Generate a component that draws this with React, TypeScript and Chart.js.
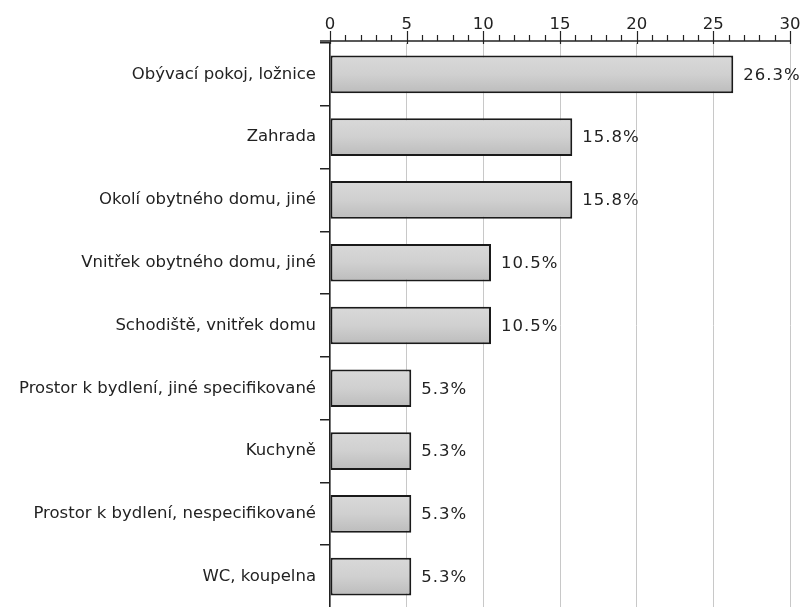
import React, { useEffect, useRef } from "react";
import { Chart, registerables } from "chart.js";

Chart.register(...registerables);

const categories = [
  "Obývací pokoj, ložnice",
  "Zahrada",
  "Okolí obytného domu, jiné",
  "Vnitřek obytného domu, jiné",
  "Schodiště, vnitřek domu",
  "Prostor k bydlení, jiné specifikované",
  "Kuchyně",
  "Prostor k bydlení, nespecifikované",
  "WC, koupelna",
];
const values = [26.3, 15.8, 15.8, 10.5, 10.5, 5.3, 5.3, 5.3, 5.3];
const valueLabels = ["26.3%", "15.8%", "15.8%", "10.5%", "10.5%", "5.3%", "5.3%", "5.3%", "5.3%"];
const axisMin = 0;
const axisMax = 30;
const majorStep = 5;
const minorStep = 1;

const FONT = "'DejaVu Sans', sans-serif";
const FONT_SIZE = 16.5;
const INK = "#222222";

const gradientPlugin = {
  id: "barGradient",
  beforeDatasetsDraw(chart: any) {
    const ctx = chart.ctx;
    chart.getDatasetMeta(0).data.forEach((el: any) => {
      const top = el.y - el.height / 2;
      const bottom = el.y + el.height / 2;
      const g = ctx.createLinearGradient(0, top, 0, bottom);
      g.addColorStop(0, "#d9d9d9");
      g.addColorStop(0.5, "#d0d0d0");
      g.addColorStop(1, "#bcbcbc");
      el.options = Object.assign({}, el.options, { backgroundColor: g });
    });
  },
};

const axisPlugin = {
  id: "topAxis",
  afterDraw(chart: any) {
    const ctx = chart.ctx;
    const xs = chart.scales.x;
    const axisY = chart.chartArea.top - 2;
    ctx.save();
    ctx.strokeStyle = INK;
    ctx.lineWidth = 1.5;
    ctx.beginPath();
    ctx.moveTo(chart.chartArea.left - 10, axisY);
    ctx.lineTo(chart.chartArea.right, axisY);
    ctx.stroke();
    ctx.lineWidth = 1.2;
    for (let v = axisMin; v <= axisMax + 1e-9; v += minorStep) {
      const x = Math.round(xs.getPixelForValue(v)) + 0.5;
      const major = Math.abs(v % majorStep) < 1e-9;
      ctx.beginPath();
      ctx.moveTo(x, major ? axisY - 10 : axisY - 6);
      ctx.lineTo(x, major ? axisY + 3 : axisY);
      ctx.stroke();
    }
    ctx.fillStyle = INK;
    ctx.font = `${FONT_SIZE}px ${FONT}`;
    ctx.textAlign = "left";
    ctx.textBaseline = "middle";
    (ctx as any).letterSpacing = "1px";
    chart.getDatasetMeta(0).data.forEach((el: any, i: number) => {
      ctx.fillText(valueLabels[i], el.x + 10, el.y + 1);
    });
    ctx.restore();
  },
};

export default function App() {
  const ref = useRef<HTMLCanvasElement | null>(null);
  useEffect(() => {
    if (!ref.current) return;
    const chart = new Chart(ref.current, {
      type: "bar",
      data: {
        labels: categories,
        datasets: [
          {
            data: values,
            backgroundColor: "#cccccc",
            borderColor: "#1a1a1a",
            borderWidth: 2,
            borderSkipped: false,
            barPercentage: 0.6,
            categoryPercentage: 1,
          },
        ],
      },
      options: {
        indexAxis: "y",
        animation: false,
        responsive: false,
        devicePixelRatio: 1,
        layout: { padding: { left: 0, right: 12, top: 0, bottom: 0 } },
        plugins: { legend: { display: false }, tooltip: { enabled: false } },
        scales: {
          x: {
            type: "linear",
            position: "top",
            min: axisMin,
            max: axisMax,
            ticks: {
              stepSize: majorStep,
              color: INK,
              font: { family: FONT, size: FONT_SIZE },
              padding: 8,
            },
            grid: { color: "#c8c8c8", lineWidth: 1, drawTicks: false },
            border: { display: false },
            afterFit: (s: any) => {
              s.height = 43;
              s.paddingLeft = 0;
              s.paddingRight = 0;
            },
          },
          y: {
            type: "category",
            ticks: {
              color: INK,
              font: { family: FONT, size: FONT_SIZE },
              padding: 4,
            },
            grid: {
              drawOnChartArea: false,
              drawTicks: true,
              tickLength: 10,
              offset: true,
              color: INK,
              lineWidth: 1.5,
            },
            border: { display: true, color: INK, width: 1.5 },
            afterFit: (s: any) => {
              s.width = 330;
              s.paddingTop = 0;
              s.paddingBottom = 0;
            },
          },
        },
      },
      plugins: [gradientPlugin, axisPlugin],
    });
    return () => chart.destroy();
  }, []);
  return (
    <div
      style={{
        position: "fixed",
        left: 0,
        top: 0,
        width: 802,
        height: 607,
        overflow: "hidden",
        background: "#ffffff",
      }}
    >
      <canvas ref={ref} width={802} height={608} style={{ width: 802, height: 608, display: "block" }} />
    </div>
  );
}
